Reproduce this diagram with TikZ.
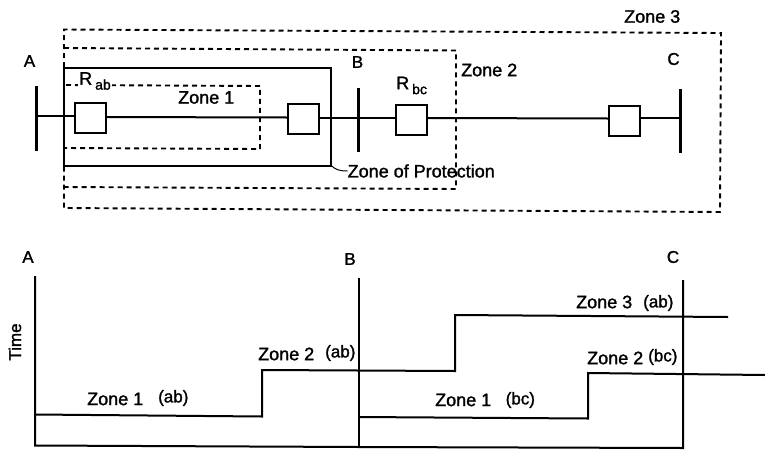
\documentclass[tikz,border=0pt]{standalone}
\usepackage{fontspec}
\setmainfont{Liberation Sans}[RawFeature={embolden=1.5}]
\begin{document}
\begin{tikzpicture}[x=1pt,y=-1pt,
  wire/.style={line width=2pt,black},
  thinwire/.style={line width=2pt,black},
  bus/.style={line width=3pt,black},
  zonebox/.style={line width=1.9pt,black,dash pattern=on 5pt off 4pt},
  solidbox/.style={line width=2pt,black},
  relay/.style={draw=black,line width=2pt,fill=white,minimum width=31pt,minimum height=30pt,inner sep=0pt},
  lbl/.style={font=\fontsize{18}{20}\selectfont,inner sep=0pt,text=black},
  lblb/.style={font=\fontsize{17}{20}\selectfont,inner sep=0pt,text=black}]
\useasboundingbox (0,0) rectangle (765,450);
% zones
\draw[zonebox] (64,67) -- (64,29.5) -- (721,33) -- (720,212) -- (64,208) -- (64,167);
\draw[zonebox] (64,48) -- (456,50.5) -- (456,189) -- (64,187);
\draw[solidbox] (64,68) rectangle (331,165.5);
\draw[zonebox] (66,85) -- (260,86) -- (260,149) -- (64,148);
% busbars
\coordinate (abot) at (36,151); \coordinate (atop) at (36,86);
\coordinate (btop) at (358,88); \coordinate (bbot) at (358,152);
\coordinate (ctop) at (680,89); \coordinate (cbot) at (680,153);
\coordinate (amid) at (36,116); \coordinate (bmid) at (358,117.5); \coordinate (cmid) at (680,118);
\draw[bus] (atop) -- (abot);
\draw[bus] (btop) -- (bbot);
\draw[bus] (ctop) -- (cbot);
% relays
\node[relay] (r1) at (90,118) {};
\node[relay] (r2) at (303.5,119) {};
\node[relay] (r3) at (411.5,119.5) {};
\node[relay] (r4) at (624.5,120.5) {};
\draw[wire] (amid) -- (r1.west |- amid);
\draw[wire] (r1.east |- 0,117) -- (r2.west |- 0,117.5);
\draw[wire] (r2.east |- bmid) -- (bmid);
\draw[wire] (bmid) -- (r3.west |- bmid);
\draw[wire] (r3.east |- 0,118) -- (r4.west |- 0,118.5);
\draw[wire] (r4.east |- cmid) -- (cmid);
% leader
\node[lbl,anchor=west] (zop) at (347.5,171) {Zone of Protection};
\coordinate (zcorner) at (331,165.5);
\draw[line width=1pt,black] (zcorner) .. controls (336,170) and (340,171) .. (zop.west);
% top labels
\node[lblb] (la) at (29.5,61) {A};
\node[lblb] (lb) at (357.5,62) {B};
\node[lblb] (lc) at (673.5,59) {C};
\node[lbl,anchor=west,fill=white,inner xsep=1pt,inner ysep=0pt] (rab) at (78,81) {R\kern3pt\raisebox{-5pt}{\fontsize{14}{16}\selectfont ab}};
\node[lbl,anchor=west] (rbc) at (396,85.5) {R\kern3pt\raisebox{-5pt}{\fontsize{14}{16}\selectfont bc}};
\node[lbl,anchor=west] (z1) at (178,97.5) {Zone 1};
\node[lbl,anchor=west] (z2) at (461,70) {Zone 2};
\node[lbl,anchor=west] (z3) at (624,16.5) {Zone 3};
% lower chart
\node[lblb] (ta) at (28,257) {A};
\node[lblb] (tb) at (350,259) {B};
\node[lblb] (tc) at (673,257) {C};
\node[lblb,rotate=90] (time) at (15,342) {Time};
\coordinate (a0) at (35,276); \coordinate (a1) at (35,445.5);
\coordinate (b0) at (359,278); \coordinate (b1) at (359,447);
\coordinate (c0) at (683,280); \coordinate (c1) at (683,448);
\draw[thinwire] (a0) -- (a1) -- (b1) -- (c1) -- (c0);
\draw[thinwire] (b0) -- (b1);
\draw[wire] (35,414.5) -- (262,416.5) -- (262,370) -- (455,371) -- (455,315) -- (728,317);
\draw[wire] (359,417) -- (588,418.5) -- (588,373) -- (765,375);
\node[lbl,anchor=west] at (87,399) {Zone 1};
\node[lblb,anchor=west] at (158,398) {(ab)};
\node[lbl,anchor=west] at (258,354) {Zone 2};
\node[lblb,anchor=west] at (325,353) {(ab)};
\node[lbl,anchor=west] at (576,302) {Zone 3};
\node[lblb,anchor=west] at (643,303) {(ab)};
\node[lbl,anchor=west] at (587,358) {Zone 2};
\node[lblb,anchor=west] at (648,357) {(bc)};
\node[lbl,anchor=west] at (435,400) {Zone 1};
\node[lblb,anchor=west] at (505.5,400) {(bc)};
\end{tikzpicture}
\end{document}
